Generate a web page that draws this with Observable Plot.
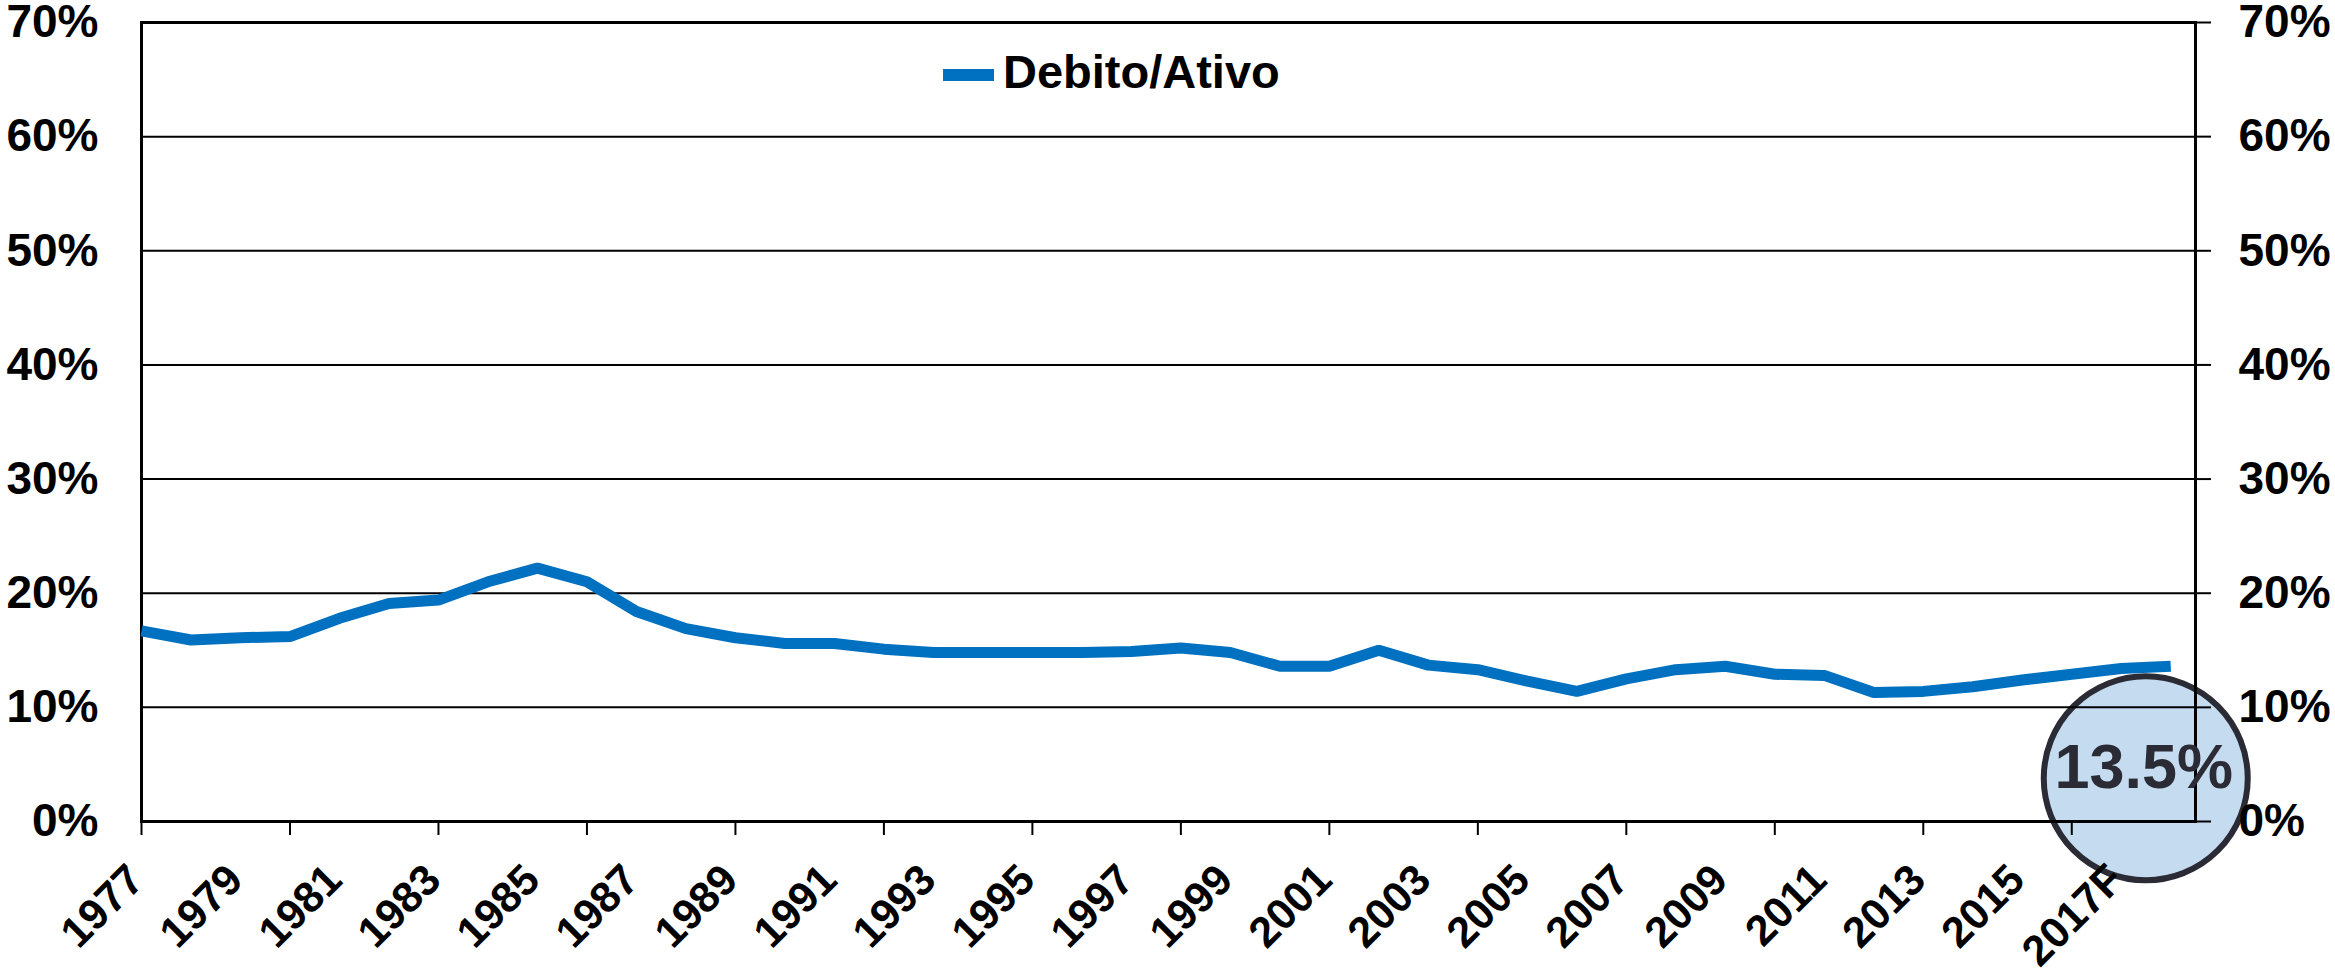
<!DOCTYPE html>
<html>
<head>
<meta charset="utf-8">
<script src="https://cdn.jsdelivr.net/npm/d3@7"></script>
<script src="https://cdn.jsdelivr.net/npm/@observablehq/plot@0.6"></script>
<style>
html, body { margin: 0; padding: 0; background: #fff; }
#wrap { position: relative; width: 2335px; height: 974px; font-family: "Liberation Sans", Arial, sans-serif; }
#legend-swatch { position: absolute; left: 943px; top: 69px; width: 51px; height: 12px; background: #0070c0; }
#legend-text { position: absolute; left: 1003px; top: 48px; font-size: 47px; line-height: 47px; font-weight: bold; color: #000; white-space: nowrap; }
</style>
</head>
<body>
<div id="wrap"></div>
<script>
// ---- data ----
const years = [1977, 1978, 1979, 1980, 1981, 1982, 1983, 1984, 1985, 1986,
  1987, 1988, 1989, 1990, 1991, 1992, 1993, 1994, 1995, 1996,
  1997, 1998, 1999, 2000, 2001, 2002, 2003, 2004, 2005, 2006,
  2007, 2008, 2009, 2010, 2011, 2012, 2013, 2014, 2015, 2016,
  2017, 2018];
const debtToAssets = [16.7, 15.9, 16.1, 16.2, 17.8, 19.1, 19.4, 21.0, 22.2, 21.0,
  18.4, 16.9, 16.1, 15.6, 15.6, 15.1, 14.8, 14.8, 14.8, 14.8,
  14.9, 15.2, 14.8, 13.6, 13.6, 15.0, 13.7, 13.3, 12.3, 11.4,
  12.5, 13.3, 13.6, 12.9, 12.8, 11.3, 11.4, 11.8, 12.4, 12.9,
  13.4, 13.6];
const yTicks = [0, 10, 20, 30, 40, 50, 60, 70];
const xTickYears = [1977, 1980, 1983, 1986, 1989, 1992, 1995, 1998, 2001, 2004, 2007, 2010, 2013, 2016];
const xLabelYears = [1977, 1979, 1981, 1983, 1985, 1987, 1989, 1991, 1993, 1995, 1997, 1999, 2001, 2003, 2005, 2007, 2009, 2011, 2013, 2015, 2017];
const xLabels = ["1977", "1979", "1981", "1983", "1985", "1987", "1989", "1991", "1993", "1995", "1997", "1999", "2001", "2003", "2005", "2007", "2009", "2011", "2013", "2015", "2017F"];
const seriesName = "Debito/Ativo";
const calloutText = "13.5%";

// ---- build ----
const data = years.map((year, i) => ({year, value: debtToAssets[i]}));
const labels = xLabelYears.map((year, i) => ({year, label: xLabels[i]}));
const last = data[data.length - 1];
const font = "'Liberation Sans', Arial, sans-serif";

const plot = Plot.plot({
  width: 2335,
  height: 974,
  marginLeft: 141,
  marginRight: 140,
  marginTop: 22,
  marginBottom: 153,
  style: {fontFamily: font, fontWeight: "bold", color: "#000", background: "#fff", overflow: "visible"},
  x: {domain: [1977, 2018.5]},
  y: {domain: [0, 70]},
  marks: [
    Plot.dot([last], {x: "year", y: "value", r: 102, dx: -25, dy: 112, fill: "#c5dcf0", stroke: "#2b2b35", strokeWidth: 6}),
    Plot.ruleY(yTicks, {stroke: "#000", strokeWidth: 2}),
    Plot.frame({stroke: "#000", strokeWidth: 3}),
    Plot.axisY({anchor: "left", label: null, ticks: yTicks, tickSize: 0, tickPadding: 43, tickFormat: d => d + "%", fontSize: 46, fontWeight: "bold", fill: "#000"}),
    Plot.axisY({anchor: "right", label: null, ticks: yTicks, tickSize: 15, tickPadding: 28, tickFormat: d => d + "%", fontSize: 46, fontWeight: "bold", fill: "#000", stroke: "#000", strokeWidth: 2}),
    Plot.axisX({label: null, ticks: xTickYears, tickSize: 14, tickFormat: () => "", stroke: "#000", strokeWidth: 2}),
    Plot.text(labels, {x: "year", text: "label", frameAnchor: "bottom", rotate: -45, textAnchor: "end", lineAnchor: "middle", dx: -5, dy: 51, fontSize: 43, fontWeight: "bold", fill: "#000"}),
    Plot.line(data, {x: "year", y: "value", stroke: "#0070c0", strokeWidth: 11, strokeLinejoin: "miter", strokeLinecap: "butt"}),
    Plot.text([last], {x: "year", y: "value", text: () => calloutText, dx: -27, dy: 102, fontSize: 63, fontWeight: "bold", fill: "#2b2b35"})
  ]
});

const wrap = document.getElementById("wrap");
wrap.appendChild(plot);
const sw = document.createElement("div");
sw.id = "legend-swatch";
wrap.appendChild(sw);
const lt = document.createElement("div");
lt.id = "legend-text";
lt.textContent = seriesName;
wrap.appendChild(lt);
</script>
</body>
</html>
